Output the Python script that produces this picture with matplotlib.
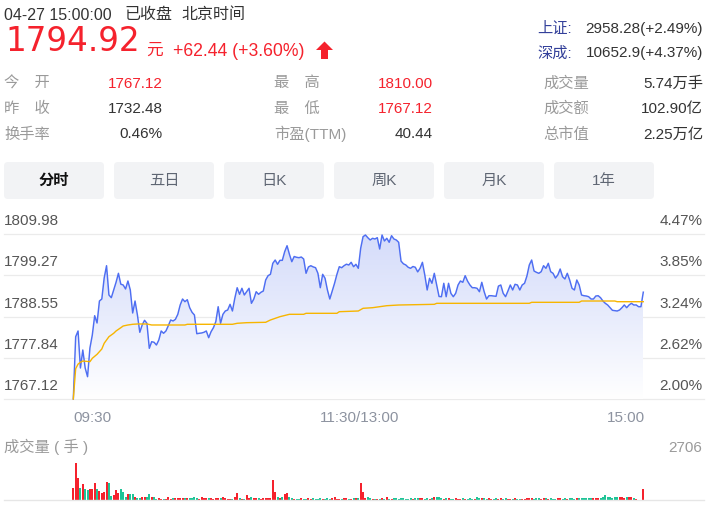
import numpy as np
import matplotlib
matplotlib.use('Agg')
import matplotlib.pyplot as plt
from matplotlib.patches import Polygon, FancyBboxPatch
from matplotlib.colors import LinearSegmentedColormap

plt.rcParams['font.family'] = ['Liberation Sans', 'Noto Sans CJK SC', 'DejaVu Sans']

W, H = 713, 518

# ---- quote header ----
prev_close = 1732.48
last_price = "1794.92"
change_text = "+62.44 (+3.60%)"
info_rows = [
    ("今\u3000开", "1767.12", "最\u3000高", "1810.00", "成交量", "5.74万手"),
    ("昨\u3000收", "1732.48", "最\u3000低", "1767.12", "成交额", "102.90亿"),
    ("换手率", "0.46%", "市盈(TTM)", "40.44", "总市值", "2.25万亿"),
]
info_red = [(True, True), (False, True), (False, False)]
index_names = ["上证:", "深成:"]
index_values = ["2958.28(+2.49%)", "10652.9(+4.37%)"]
tabs = ["分时", "五日", "日K", "周K", "月K", "1年"]

# ---- intraday data (one value per minute, 09:30 .. 15:00) ----
prices = [
    1767.12, 1783.33, 1784.82, 1775.19, 1779.87, 1775.19, 1772.92, 1780.39, 1783.77, 1788.80,
    1786.90, 1792.62, 1793.14, 1798.61, 1801.81, 1794.20, 1793.48, 1795.50, 1797.50, 1799.83,
    1797.00, 1796.79, 1795.75, 1797.83, 1795.49, 1789.50, 1792.62, 1788.98, 1784.48, 1786.38,
    1787.60, 1786.82, 1780.31, 1782.03, 1781.88, 1781.17, 1782.47, 1784.82, 1784.22, 1784.82,
    1786.19, 1787.68, 1787.42, 1787.86, 1789.16, 1791.58, 1793.14, 1792.44, 1792.96, 1790.88,
    1789.68, 1788.98, 1784.11, 1784.22, 1784.30, 1784.48, 1784.82, 1783.07, 1784.63, 1785.67,
    1787.24, 1791.14, 1786.82, 1789.16, 1790.02, 1790.28, 1791.76, 1790.02, 1793.33, 1796.08,
    1794.37, 1795.93, 1794.18, 1795.04, 1795.93, 1792.02, 1793.14, 1795.04, 1794.37, 1794.89,
    1795.22, 1798.09, 1799.21, 1799.57, 1802.43, 1803.29, 1802.17, 1803.21, 1803.20, 1805.45,
    1807.01, 1804.78, 1802.85, 1804.20, 1804.00, 1803.89, 1804.07, 1803.55, 1799.83, 1801.47,
    1801.81, 1801.50, 1801.29, 1799.83, 1796.08, 1799.57, 1798.53, 1795.50, 1793.14, 1795.22,
    1797.23, 1799.57, 1801.55, 1801.29, 1801.81, 1802.20, 1801.99, 1802.69, 1801.55, 1802.17,
    1801.13, 1806.34, 1809.36, 1809.80, 1809.10, 1808.50, 1808.94, 1808.76, 1809.10, 1806.15,
    1809.80, 1808.24, 1808.94, 1807.90, 1809.62, 1808.76, 1808.50, 1807.90, 1803.00, 1802.30,
    1802.00, 1801.40, 1801.13, 1801.60, 1801.40, 1800.20, 1801.13, 1802.69, 1799.39, 1795.49,
    1798.53, 1797.23, 1799.83, 1796.79, 1793.80, 1793.74, 1797.23, 1793.74, 1797.23, 1794.60,
    1793.74, 1794.63, 1796.79, 1797.83, 1797.49, 1799.21, 1797.80, 1796.79, 1796.08, 1796.08,
    1795.93, 1795.04, 1797.49, 1795.04, 1793.14, 1794.00, 1794.00, 1793.92, 1793.84, 1796.50,
    1796.79, 1794.63, 1793.74, 1795.22, 1796.79, 1795.49, 1796.97, 1796.79, 1795.49, 1796.79,
    1797.23, 1799.13, 1801.99, 1803.29, 1800.43, 1800.09, 1799.83, 1800.25, 1801.81, 1801.13,
    1802.43, 1800.25, 1799.83, 1798.60, 1799.39, 1800.95, 1798.95, 1798.35, 1799.83, 1798.09,
    1795.93, 1795.49, 1798.09, 1796.79, 1794.18, 1794.00, 1793.92, 1793.74, 1793.14, 1793.14,
    1793.92, 1794.00, 1793.48, 1792.62, 1792.02, 1791.58, 1790.88, 1790.20, 1790.10, 1790.02,
    1790.28, 1790.88, 1791.60, 1790.88, 1791.58, 1792.02, 1791.58, 1791.60, 1791.14, 1791.14,
    1794.92,
]

# average price line, (minute, value) where it changes
avg_minutes = [0, 1, 2, 3, 4, 7, 8, 10, 12, 13, 15, 17, 18, 20, 21, 23, 25, 27, 31, 33,
               47, 48, 67, 69, 73, 81, 83, 87, 91, 97, 98, 111, 112, 120, 122, 126, 132,
               137, 152, 153, 192, 193, 213, 214, 228, 229, 240]
avg_values = [1767.12, 1775.00, 1776.20, 1776.67, 1777.01, 1776.83, 1777.71, 1778.75,
              1780.13, 1781.62, 1783.33, 1784.22, 1784.82, 1785.67, 1786.12, 1786.38,
              1786.56, 1786.64, 1786.64, 1786.38, 1786.38, 1786.56, 1786.56, 1786.82,
              1786.98, 1787.08, 1787.68, 1788.54, 1789.16, 1789.16, 1789.42, 1789.42,
              1789.84, 1790.02, 1790.72, 1790.88, 1791.40, 1791.58, 1791.76, 1792.02,
              1792.02, 1792.28, 1792.28, 1792.62, 1792.62, 1792.44, 1792.44]

volumes = [
    877, 2706, 1610, 877, 1170, 805, 707, 829, 829, 1268,
    829, 683, 536, 585, 1341, 1268, 292, 341, 707, 536,
    805, 560, 244, 439, 439, 439, 244, 146, 146, 244,
    244, 244, 439, 195, 195, 97, 146, 97, 97, 73,
    195, 97, 122, 122, 122, 170, 170, 170, 170, 170,
    170, 244, 170, 97, 244, 122, 146, 122, 170, 97,
    170, 122, 170, 244, 170, 97, 97, 73, 244, 536,
    170, 97, 97, 341, 122, 244, 170, 170, 170, 97,
    170, 170, 170, 170, 1462, 585, 244, 170, 244, 439,
    536, 244, 122, 97, 97, 97, 122, 97, 97, 170,
    97, 122, 97, 97, 122, 97, 97, 170, 73, 122,
    244, 73, 97, 97, 122, 170, 97, 97, 122, 170,
    146, 1268, 609, 146, 244, 146, 97, 97, 73, 97,
    170, 73, 244, 97, 97, 122, 170, 97, 170, 170,
    97, 97, 122, 97, 122, 170, 170, 146, 97, 122,
    97, 122, 244, 244, 244, 122, 97, 170, 122, 73,
    97, 122, 97, 97, 122, 97, 97, 122, 97, 97,
    244, 122, 170, 170, 97, 122, 97, 73, 122, 97,
    170, 97, 122, 97, 97, 73, 122, 97, 73, 49,
    97, 122, 170, 122, 97, 170, 170, 97, 122, 170,
    97, 122, 97, 97, 122, 170, 97, 122, 97, 122,
    170, 97, 122, 170, 122, 170, 170, 170, 170, 170,
    146, 122, 170, 244, 366, 244, 244, 122, 244, 244,
    244, 244, 170, 244, 244, 244, 122, 49, 0, 0,
    829,
]

price_ticks = [1809.98, 1799.27, 1788.55, 1777.84, 1767.12]
pct_labels = ["4.47%", "3.85%", "3.24%", "2.62%", "2.00%"]
time_labels = ["09:30", "11:30/13:00", "15:00"]
time_pos = [0, 120.5, 240]
vol_max = 2706

RED = '#f5222d'
GREEN = '#1fc497'
BLUE = '#4e6ef2'
GOLD = '#f7b500'

fig = plt.figure(figsize=(W / 100, H / 100), dpi=100)

# full-figure layer in pixel units for header & buttons
deco = fig.add_axes([0, 0, 1, 1])
deco.set_xlim(0, W)
deco.set_ylim(H, 0)
deco.axis('off')

deco.text(4, 19.5, "04-27 15:00:00", fontsize=11.5, color='#333333', va='baseline')
deco.text(124, 19.5, "已收盘", fontsize=11.5, color='#333333', va='baseline')
deco.text(181, 19.5, "北京时间", fontsize=11.5, color='#333333', va='baseline')

deco.text(5, 51, last_price, fontsize=23.5, color=RED, va='baseline', family='DejaVu Sans')
deco.text(146, 54.5, "元", fontsize=12, color=RED, va='baseline')
deco.text(173, 55.5, change_text, fontsize=12.7, color=RED, va='baseline')
deco.add_patch(Polygon([(316, 50), (324.5, 41.5), (333, 50), (328, 50), (328, 59),
                        (321, 59), (321, 50)], closed=True, color=RED, lw=0))

for i, (nm, val) in enumerate(zip(index_names, index_values)):
    yb = 32.5 + 25 * i
    deco.text(537, yb, nm, fontsize=11, color='#33409a', va='baseline')
    deco.text(703, yb, val, fontsize=11, color='#333333', va='baseline', ha='right')

row_base = [87.5, 113, 138.5]
for row, reds, yb in zip(info_rows, info_red, row_base):
    deco.text(4, yb, row[0], fontsize=11, color='#9a9a9a', va='baseline')
    deco.text(163, yb, row[1], fontsize=11, color=RED if reds[0] else '#333333',
              va='baseline', ha='right')
    deco.text(274, yb, row[2], fontsize=11, color='#9a9a9a', va='baseline')
    deco.text(433, yb, row[3], fontsize=11, color=RED if reds[1] else '#333333',
              va='baseline', ha='right')
    deco.text(543, yb, row[4], fontsize=11, color='#9a9a9a', va='baseline')
    deco.text(703, yb, row[5], fontsize=11, color='#333333', va='baseline', ha='right')

for i, t in enumerate(tabs):
    x0 = 4 + 110 * i
    deco.add_patch(FancyBboxPatch((x0, 162), 100, 37, boxstyle="round,pad=0,rounding_size=4",
                                  facecolor='#f2f3f5', edgecolor='none'))
    deco.text(x0 + 50, 181, t, fontsize=11, ha='center', va='center',
              color='#111111' if i == 0 else '#5f6673',
              weight='bold' if i == 0 else 'normal')

# ---- price panel ----
minutes = np.arange(len(prices))
xlim = (-29.18, 265.56)

ax = fig.add_axes([4 / W, 1 - 399 / H, 700 / W, (399 - 234.3) / H])
ax.set_facecolor('none')
ax.axis('off')

for v in price_ticks:
    ax.axhline(v, color='#ebebeb', lw=0.9, zorder=0, clip_on=False)

ybot = price_ticks[-1]
verts = [(minutes[0], ybot)] + list(zip(minutes, prices)) + [(minutes[-1], ybot)]
poly = Polygon(verts, closed=True, facecolor='none', edgecolor='none')
ax.add_patch(poly)
cmap = LinearSegmentedColormap.from_list('fade', ['#ffffff', '#e8ecfc', '#d5dcfa'])
grad = np.linspace(0, 1, 256).reshape(-1, 1)
im = ax.imshow(grad, extent=[minutes[0], minutes[-1], price_ticks[-1], price_ticks[0]],
               origin='lower', cmap=cmap, aspect='auto', zorder=1)
im.set_clip_path(poly)

ax.plot(minutes, prices, color=BLUE, lw=1.05, zorder=3, clip_on=False)
ax.plot(avg_minutes, avg_values, color=GOLD, lw=1.0, zorder=4, clip_on=False)

ax.set_xlim(*xlim)
ax.set_ylim(price_ticks[-1], price_ticks[0])

for v, p in zip(price_ticks, pct_labels):
    ax.annotate(f"{v:.2f}", xy=(0, v), xycoords=('axes fraction', 'data'),
                xytext=(0, 6.5), textcoords='offset points', fontsize=11,
                color='#555555', ha='left', va='baseline')
    ax.annotate(p, xy=(1, v), xycoords=('axes fraction', 'data'),
                xytext=(-1, 6.5), textcoords='offset points', fontsize=11,
                color='#555555', ha='right', va='baseline')

for t, lab, ha in zip(time_pos, time_labels, ['left', 'center', 'right']):
    ax.annotate(lab, xy=(t, 0), xycoords=('data', 'axes fraction'),
                xytext=(0 if ha != 'right' else 1.5, -16.2), textcoords='offset points',
                fontsize=11, color='#8d93a0', ha=ha, va='baseline')

# ---- volume panel ----
vax = fig.add_axes([4 / W, 1 - 500 / H, 700 / W, (500 - 463.3) / H])
vax.set_facecolor('none')
vax.axis('off')
up = np.r_[prices[0] >= prev_close, np.diff(prices) >= 0]
vax.bar(minutes, volumes, width=0.85, color=np.where(up, RED, GREEN), lw=0)
vax.axhline(0, color='#e6e6e6', lw=1.0, clip_on=False)
vax.set_xlim(*xlim)
vax.set_ylim(0, vol_max)
vax.annotate("成交量 ( 手 )", xy=(0, 1), xycoords='axes fraction', xytext=(0, 8),
             textcoords='offset points', fontsize=11, color='#9a9a9a', va='baseline')
vax.annotate(str(vol_max), xy=(1, 1), xycoords='axes fraction', xytext=(-1, 8),
             textcoords='offset points', fontsize=11, color='#9a9a9a', va='baseline',
             ha='right')

fig.savefig('out.png', dpi=100)
